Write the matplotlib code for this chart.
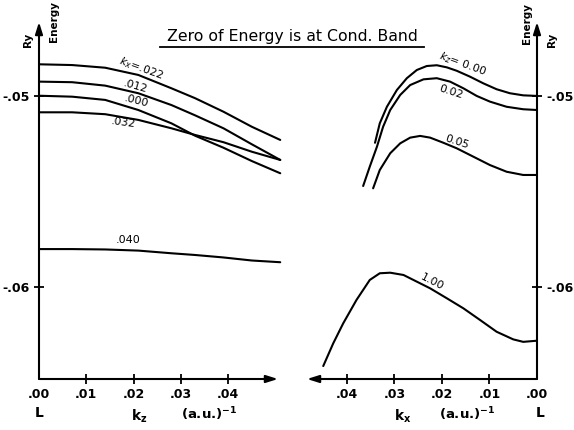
import matplotlib.pyplot as plt
from matplotlib.lines import Line2D

# left panel: energy (Ry) versus k_z for several k_x values
kz = [0.000, 0.007, 0.014, 0.021, 0.028, 0.033, 0.039, 0.045, 0.051]
e_kx022 = [-0.04831, -0.04835, -0.04849, -0.04887, -0.04957, -0.05009, -0.05080, -0.05159, -0.05228]
e_kx012 = [-0.04922, -0.04925, -0.04943, -0.04983, -0.05045, -0.05099, -0.05167, -0.05251, -0.05333]
e_kx000 = [-0.04996, -0.05001, -0.05018, -0.05071, -0.05141, -0.05206, -0.05269, -0.05339, -0.05403]
e_kx032 = [-0.05083, -0.05083, -0.05093, -0.05123, -0.05167, -0.05202, -0.05240, -0.05290, -0.05333]
e_kx040 = [-0.05801, -0.05801, -0.05803, -0.05809, -0.05823, -0.05832, -0.05845, -0.05861, -0.05870]

# right panel: energy versus k_x for several k_z values
kx_kz000 = [0.0341, 0.0331, 0.0316, 0.0295, 0.0274, 0.0253, 0.0232, 0.0211, 0.0190,
            0.0169, 0.0141, 0.0113, 0.0085, 0.0057, 0.0029, 0.0]
e_kz000 = [-0.05243, -0.05141, -0.05054, -0.04966, -0.04904, -0.04861, -0.04840, -0.04836, -0.04847,
           -0.04865, -0.04896, -0.04931, -0.04962, -0.04983, -0.04994, -0.04997]
kx_kz002 = [0.0366, 0.0352, 0.0337, 0.0324, 0.0309, 0.0288, 0.0267, 0.0239, 0.0211,
            0.0183, 0.0155, 0.0127, 0.0099, 0.0064, 0.0029, 0.0]
e_kz002 = [-0.05470, -0.05368, -0.05264, -0.05159, -0.05071, -0.04992, -0.04940, -0.04910, -0.04904,
           -0.04922, -0.04957, -0.04997, -0.05027, -0.05054, -0.05067, -0.05071]
kx_kz005 = [0.0345, 0.0331, 0.0309, 0.0288, 0.0267, 0.0246, 0.0225, 0.0197, 0.0169,
            0.0134, 0.0099, 0.0064, 0.0029, 0.0]
e_kz005 = [-0.05482, -0.05386, -0.05298, -0.05246, -0.05216, -0.05207, -0.05216, -0.05243, -0.05272,
           -0.05316, -0.05360, -0.05395, -0.05412, -0.05412]
kx_kz100 = [0.0450, 0.0429, 0.0408, 0.0380, 0.0352, 0.0331, 0.0309, 0.0281, 0.0253,
            0.0225, 0.0190, 0.0155, 0.0120, 0.0085, 0.0050, 0.0029, 0.0]
e_kz100 = [-0.06415, -0.06296, -0.06191, -0.06068, -0.05963, -0.05928, -0.05925, -0.05937, -0.05972,
           -0.06007, -0.06059, -0.06112, -0.06173, -0.06235, -0.06275, -0.06288, -0.06282]

x_ticks = [0.0, 0.01, 0.02, 0.03, 0.04]
x_tick_labels = [".00", ".01", ".02", ".03", ".04"]
y_ticks = [-0.06, -0.05]
y_tick_labels = ["-.06", "-.05"]

W, H = 574, 430


def fpos(x, y):
    return x / W, 1 - y / H


def style_axis(ax, arrow_x):
    for spine in ax.spines.values():
        spine.set_visible(False)
    ax.set_ylim(-0.06483, -0.04609)
    ax.set_xticks(x_ticks, x_tick_labels)
    ax.set_yticks(y_ticks, y_tick_labels)
    ax.tick_params(direction="inout", length=7, width=1.3, labelsize=9, pad=3)
    for lbl in ax.get_xticklabels() + ax.get_yticklabels():
        lbl.set_fontweight("bold")
    for tick in ax.xaxis.get_major_ticks():
        if tick.get_loc() == 0:
            tick.tick1line.set_visible(False)
    arrow = dict(arrowstyle="-|>,head_length=0.7,head_width=0.22", lw=1.5,
                 color="black", shrinkA=0, shrinkB=0)
    corner = 0 if arrow_x > 0.5 else 1
    ax.annotate("", xy=(corner, 1), xytext=(corner, 0), xycoords="axes fraction",
                arrowprops=arrow)
    ax.annotate("", xy=(arrow_x, 0), xytext=(corner, 0), xycoords="axes fraction",
                arrowprops=arrow)


fig = plt.figure(figsize=(W / 100, H / 100), dpi=100)
ax1 = fig.add_axes([39 / W, 51 / H, 242 / W, 357 / H])
ax2 = fig.add_axes([305 / W, 51 / H, 232 / W, 357 / H])

line_kw = dict(color="black", lw=1.5, solid_capstyle="round", clip_on=False)

for e in [e_kx022, e_kx012, e_kx000, e_kx032, e_kx040]:
    ax1.plot(kz, e, **line_kw)
ax1.set_xlim(0, 0.05116)
style_axis(ax1, 0.9876)

for k, e in [(kx_kz000, e_kz000), (kx_kz002, e_kz002), (kx_kz005, e_kz005), (kx_kz100, e_kz100)]:
    ax2.plot(k, e, **line_kw)
ax2.set_xlim(0.04884, 0)
ax2.yaxis.tick_right()
style_axis(ax2, 0.0086)

# curve labels
lab_kw = dict(fontsize=8, ha="center", va="center")
ax1.text(0.0216, -0.04855, r"$\mathit{k}_\mathit{x}$=.022", rotation=-20, **lab_kw)
ax1.text(0.0205, -0.04950, ".012", rotation=-16, **lab_kw)
ax1.text(0.0207, -0.05024, ".000", rotation=-14, **lab_kw)
ax1.text(0.0178, -0.05140, ".032", rotation=-8, **lab_kw)
ax1.text(0.0188, -0.05752, ".040", rotation=0, **lab_kw)
ax2.text(0.0156, -0.04830, r"$\mathit{k}_\mathit{z}$= 0.00", rotation=-20, **lab_kw)
ax2.text(0.0181, -0.04976, "0.02", rotation=-18, **lab_kw)
ax2.text(0.0168, -0.05240, "0.05", rotation=-18, **lab_kw)
ax2.text(0.0221, -0.05975, "1.00", rotation=-27, **lab_kw)

# title with underline
fig.text(*fpos(292, 36), "Zero of Energy is at Cond. Band", fontsize=11.3,
         ha="center", va="center")
fig.add_artist(Line2D([160 / W, 424 / W], [1 - 47 / H] * 2, transform=fig.transFigure,
                      color="black", lw=1.3))

# axis names
ax_kw = dict(fontsize=7.5, fontweight="bold", ha="center", va="center")
fig.text(*fpos(28, 40), "Ry", rotation=90, **ax_kw)
fig.text(*fpos(54, 21), "Energy", rotation=90, **ax_kw)
fig.text(*fpos(527, 23), "Energy", rotation=90, **ax_kw)
fig.text(*fpos(552, 40), "Ry", rotation=90, **ax_kw)

fig.text(*fpos(39, 413), "L", fontsize=10, fontweight="bold", ha="center", va="center")
fig.text(*fpos(540, 413), "L", fontsize=10, fontweight="bold", ha="center", va="center")
fig.text(*fpos(139, 416), r"$\mathbf{k}_\mathbf{z}$", fontsize=10, ha="center", va="center")
fig.text(*fpos(209, 414), r"(a.u.)$^{\mathbf{-1}}$", fontsize=9.5, fontweight="bold",
         ha="center", va="center")
fig.text(*fpos(403, 416), r"$\mathbf{k}_\mathbf{x}$", fontsize=10, ha="center", va="center")
fig.text(*fpos(467, 414), r"(a.u.)$^{\mathbf{-1}}$", fontsize=9.5, fontweight="bold",
         ha="center", va="center")

fig.savefig("out.png", dpi=100)
